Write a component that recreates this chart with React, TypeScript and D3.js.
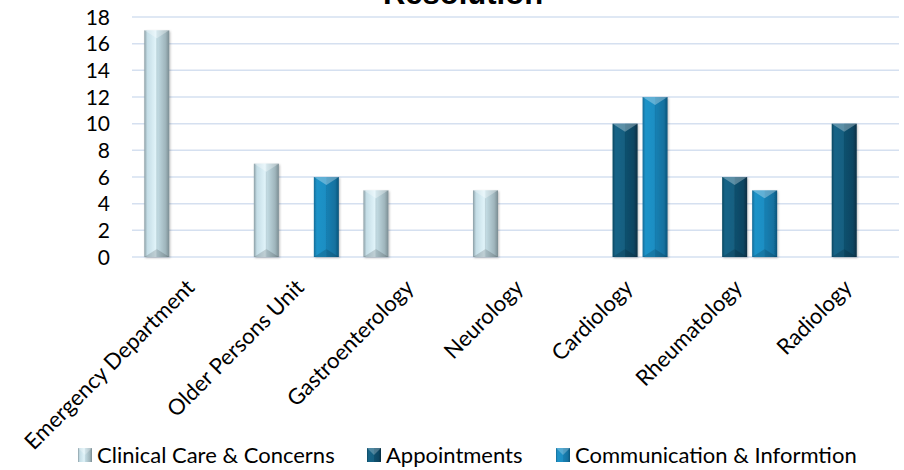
import React from "react";
import * as d3 from "d3";

const categories = [
  "Emergency Department",
  "Older Persons Unit",
  "Gastroenterology",
  "Neurology",
  "Cardiology",
  "Rheumatology",
  "Radiology",
];
const seriesNames = ["Clinical Care & Concerns", "Appointments", "Communication & Informtion"];
const clinical = [17, 7, 5, 5, 0, 0, 0];
const appointments = [0, 0, 0, 0, 10, 6, 10];
const communication = [0, 6, 0, 0, 12, 5, 0];
const yTicks = [0, 2, 4, 6, 8, 10, 12, 14, 16, 18];
const title = "Resolution";

const seriesValues = [clinical, appointments, communication];
const gradIds = ["gClin", "gAppt", "gComm"];

const W = 904;
const H = 470;
const FONT = "Lato, 'Open Sans', sans-serif";

export default function App() {
  const x = d3.scaleBand<string>().domain(categories).range([132, 899]);
  const bw = x.bandwidth();
  const xSub = d3
    .scaleBand<string>()
    .domain(seriesNames)
    .range([bw / 2 - 42.5, bw / 2 + 42.5])
    .paddingInner(1 / 6);
  const y = d3.scaleLinear().domain([0, 18]).range([257, 17]);

  const bars: any[] = [];
  seriesValues.forEach((vals, si) => {
    vals.forEach((v, ci) => {
      if (!v) return;
      bars.push({ si, ci, v });
    });
  });

  const barW = xSub.bandwidth();
  const bev = 8;
  const legendX = [78, 367, 556];

  return (
    <svg
      width={W}
      height={H}
      style={{ position: "absolute", left: 0, top: 0, background: "#fff" }}
    >
      <defs>
        <linearGradient id="gClin" x1="0" x2="1" y1="0" y2="0">
          <stop offset="0" stopColor="#8b9ea5" />
          <stop offset="0.12" stopColor="#c4dde6" />
          <stop offset="0.45" stopColor="#e0f3f9" />
          <stop offset="0.52" stopColor="#c2dbe3" />
          <stop offset="0.85" stopColor="#9fb5bc" />
          <stop offset="1" stopColor="#7b8d93" />
        </linearGradient>
        <linearGradient id="gAppt" x1="0" x2="1" y1="0" y2="0">
          <stop offset="0" stopColor="#0d4862" />
          <stop offset="0.12" stopColor="#166487" />
          <stop offset="0.48" stopColor="#155f80" />
          <stop offset="0.52" stopColor="#0f506e" />
          <stop offset="0.85" stopColor="#0c4561" />
          <stop offset="1" stopColor="#072e42" />
        </linearGradient>
        <linearGradient id="gComm" x1="0" x2="1" y1="0" y2="0">
          <stop offset="0" stopColor="#136c98" />
          <stop offset="0.12" stopColor="#1f93c8" />
          <stop offset="0.48" stopColor="#1d8ec3" />
          <stop offset="0.52" stopColor="#1880b3" />
          <stop offset="0.85" stopColor="#14719f" />
          <stop offset="1" stopColor="#0c5479" />
        </linearGradient>
        <filter id="shadow" x="-20%" y="-5%" width="140%" height="110%">
          <feDropShadow dx="1" dy="1" stdDeviation="1" floodColor="#000" floodOpacity="0.25" />
        </filter>
      </defs>

      {/* title */}
      <text
        x={463}
        y={4}
        textAnchor="middle"
        fontFamily="'Liberation Sans', Arial, sans-serif"
        fontWeight="bold"
        fontSize={31}
        fill="#000"
      >
        {title}
      </text>

      {/* grid */}
      {yTicks.map((t) => (
        <line
          key={"g" + t}
          x1={132}
          x2={899}
          y1={y(t)}
          y2={y(t)}
          stroke="#d5e0f0"
          strokeWidth={1.5}
        />
      ))}

      {/* y tick labels */}
      {yTicks.map((t) => (
        <text
          key={"t" + t}
          x={110}
          y={y(t)}
          dy="0.36em"
          textAnchor="end"
          fontFamily={FONT}
          fontSize={21}
          fill="#000"
        >
          {t}
        </text>
      ))}

      {/* bars */}
      {bars.map((b) => {
        const x0 = (x(categories[b.ci]) as number) + (xSub(seriesNames[b.si]) as number);
        const y0 = y(b.v);
        const yb = y(0);
        const h = yb - y0;
        const bv = Math.min(bev, h / 2);
        const cx = x0 + barW / 2;
        return (
          <g key={`${b.si}-${b.ci}`}>
            <rect
              x={x0}
              y={y0}
              width={barW}
              height={h}
              fill={`url(#${gradIds[b.si]})`}
              filter="url(#shadow)"
            />
            <polygon
              points={`${x0},${y0} ${x0 + barW},${y0} ${cx},${y0 + bv}`}
              fill="#fff"
              fillOpacity={0.3}
            />
            <polygon
              points={`${x0},${yb} ${x0 + barW},${yb} ${cx},${yb - bv}`}
              fill="#000"
              fillOpacity={0.15}
            />
            <line x1={cx} x2={cx} y1={y0 + bv} y2={yb - bv} stroke="#000" strokeOpacity={0.06} />
          </g>
        );
      })}

      {/* x axis labels */}
      {categories.map((c) => {
        const cx = (x(c) as number) + bw / 2;
        return (
          <text
            key={"x" + c}
            transform={`translate(${cx + 9},${289}) rotate(-45)`}
            textAnchor="end"
            fontFamily={FONT}
            fontSize={22}
            fill="#000"
          >
            {c}
          </text>
        );
      })}

      {/* legend */}
      {seriesNames.map((s, i) => {
        const lx = legendX[i];
        return (
          <g key={"l" + s}>
            <rect x={lx} y={448} width={14} height={14} fill={`url(#${gradIds[i]})`} />
            <polygon
              points={`${lx},${448} ${lx + 14},${448} ${lx + 7},${455}`}
              fill="#fff"
              fillOpacity={0.25}
            />
            <text
              x={lx + 19}
              y={455}
              dy="0.36em"
              fontFamily={FONT}
              fontSize={22}
              fill="#000"
            >
              {s}
            </text>
          </g>
        );
      })}
    </svg>
  );
}
